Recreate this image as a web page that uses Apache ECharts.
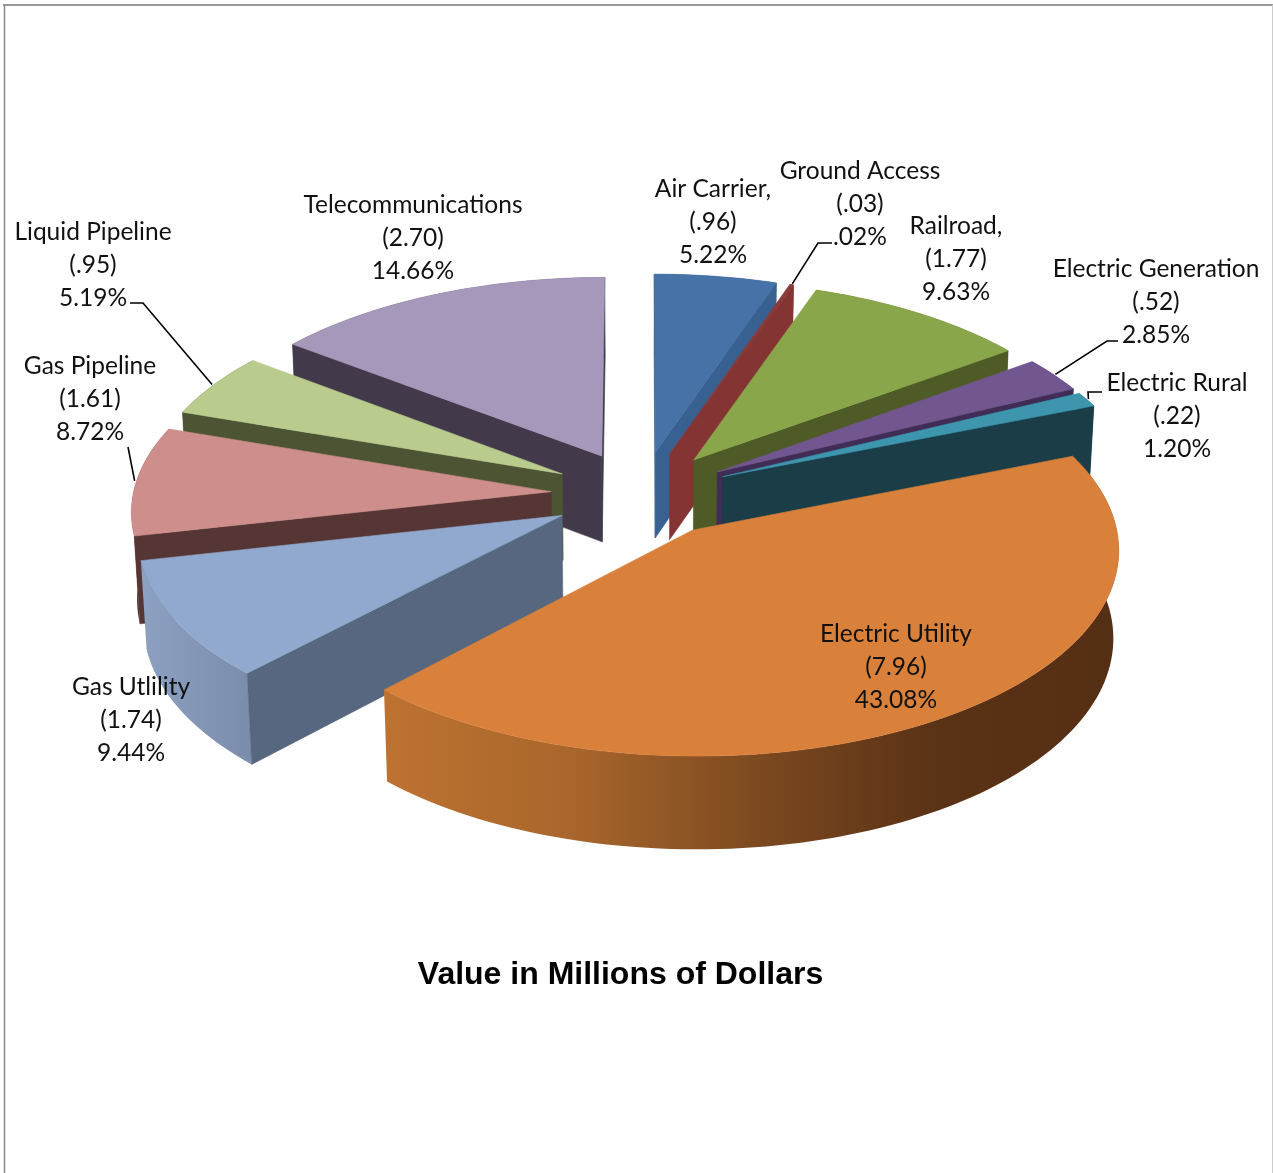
<!DOCTYPE html>
<html><head><meta charset="utf-8">
<style>html,body{margin:0;padding:0;background:#fff}#c{width:1273px;height:1173px}</style>
<script src="https://cdn.jsdelivr.net/npm/echarts@6/dist/echarts.min.js"></script>
</head><body><div id="c"></div>
<script>
// Data
const labelNames = ['Air Carrier,','Ground Access','Railroad,','Electric Generation','Electric Rural','Electric Utility','Gas Utlility','Gas Pipeline','Liquid Pipeline','Telecommunications'];
const valueLabels = ['(.96)','(.03)','(1.77)','(.52)','(.22)','(7.96)','(1.74)','(1.61)','(.95)','(2.70)'];
const percentLabels = ['5.22%','.02%','9.63%','2.85%','1.20%','43.08%','9.44%','8.72%','5.19%','14.66%'];
const values = [0.96,0.03,1.77,0.52,0.22,7.96,1.74,1.61,0.95,2.70];
const titleText = 'Value in Millions of Dollars';

// Styling
const topColors  = ['#4672a8','#8a3a38','#8aa64a','#71568f','#3d96ae','#d9803a','#92a9cf','#ce8e8b','#b9cc8e','#a598bb'];
const wallColors = ['#386090','#843432','#4e5b26','#3f2d55','#1a3d47','#552f14','#57677f','#563635','#4c5434','#423a4a'];
const rimStops = [
 ['#386090','#386090'],['#843432','#843432'],['#4e5b26','#4e5b26'],['#3f2d55','#3f2d55'],['#1a3d47','#1a3d47'],
 ['#bd7231','#a9662c','#7d4a20','#5a3216','#552f14'],['#8ea2c3','#7b8dad'],['#563635','#563635'],['#4c5434','#4c5434'],['#423a4a','#423a4a']
];
const rimExtent = [[650,780],[670,790],[700,1000],[720,1070],[720,1090],[388,1118],[135,246],[130,140],[180,190],[295,600]];

// Scene (perspective camera)
const VIEW = {cx:641, cy:494, tilt:28.6*Math.PI/180, dist:4300, R:418, H:100, explode:90};
// Label centres and leader ends (page layout)
const labelAt = [[713,222],[860,204],[956,259],[1156,302],[1177,416],[896,667],[131,720],[90,399],[93,265],[413,238]];
const leaderPath = [
  null,
  [[818,243],[832,243]],
  null,
  [[1107,341],[1118,341]],
  [[1088,392],[1102,392]],
  null,null,
  [[128,447]],
  [[143,303],[130,303]],
  null
];
const total = values.reduce((a,b)=>a+b,0);
const slices = []; let acc = 0;
values.forEach((v,i)=>{ const a0=acc/total*360; acc+=v; slices.push({i,a0,a1:acc/total*360}); });
// paint order: back of the pie first
const paintOrder = slices.slice().sort((p,q)=>Math.cos((q.a0+q.a1)/360*Math.PI) - Math.cos((p.a0+p.a1)/360*Math.PI)).map(s=>s.i);

function project(X,Y,Z){
  const c=Math.cos(VIEW.tilt), s=Math.sin(VIEW.tilt);
  const w=VIEW.dist+Y*c-Z*s, k=VIEW.dist/w;
  return [VIEW.cx+X*k, VIEW.cy-(Y*s+Z*c)*k];
}
function pt(sl,deg,r,z){
  const m=(sl.a0+sl.a1)/360*Math.PI, a=deg*Math.PI/180;
  return project(r*Math.sin(a)+VIEW.explode*Math.sin(m), r*Math.cos(a)+VIEW.explode*Math.cos(m), z);
}
function area(p){let t=0;for(let i=0;i<p.length;i++){const a=p[i],b=p[(i+1)%p.length];t+=a[0]*b[1]-b[0]*a[1];}return t;}
function poly(points,fill,stroke,z2){
  return {type:'polygon',z2,shape:{points},style:{fill,stroke:stroke,lineWidth:0.6,lineJoin:'round'}};
}
function renderSlice(params,api){
  const i=api.value(0), sl=slices[i], R=VIEW.R, H=VIEW.H, ch=[];
  const arc=[]; const n=Math.max(2,Math.ceil((sl.a1-sl.a0)/1.5));
  for(let k=0;k<=n;k++) arc.push(sl.a0+(sl.a1-sl.a0)*k/n);
  const wall=(a,sign)=>{
    const p=[pt(sl,a,0,0),pt(sl,a,R,0),pt(sl,a,R,-H),pt(sl,a,0,-H)];
    if(area(p)*sign>0) ch.push(poly(p,wallColors[i],wallColors[i]));
  };
  const rim=arc.map(a=>pt(sl,a,R,0)).concat(arc.slice().reverse().map(a=>pt(sl,a,R,-H)));
  const st=rimStops[i], ext=rimExtent[i];
  const grad=new echarts.graphic.LinearGradient(ext[0],0,ext[1],0,st.map((c,j)=>({offset:j/(st.length-1),color:c})),true);
  ch.push({type:'polygon',shape:{points:rim},style:{fill:grad}});
  wall(sl.a0,-1); wall(sl.a1,1);
  const top=[pt(sl,0,0,0)].concat(arc.map(a=>pt(sl,a,R,0)));
  ch.push(poly(top,topColors[i],topColors[i]));
  return {type:'group',children:ch};
}
function renderLabel(params,api){
  const i=api.value(0), sl=slices[i], ch=[];
  if(leaderPath[i]){
    const start=pt(sl,(sl.a0+sl.a1)/2,VIEW.R+2,0);
    ch.push({type:'polyline',shape:{points:[start].concat(leaderPath[i])},style:{stroke:'#000',lineWidth:1.6,fill:null}});
  }
  ch.push({type:'text',style:{
    text:[labelNames[i],valueLabels[i],percentLabels[i]].join('\n'),
    x:labelAt[i][0],y:labelAt[i][1],align:'center',verticalAlign:'middle',
    font:'24.5px Lato, "Open Sans", sans-serif',lineHeight:33,fill:'#111'}});
  return {type:'group',children:ch};
}
const chart=echarts.init(document.getElementById('c'),null,{renderer:'canvas'});
const rows=paintOrder.map(i=>({name:labelNames[i],value:[i,values[i]]}));
chart.setOption({
  animation:false,
  backgroundColor:'#fff',
  title:{text:titleText,left:615.5,top:954,textAlign:'center',
    textStyle:{fontFamily:'Liberation Sans',fontWeight:'bold',fontSize:32,color:'#000'}},
  graphic:[
    {type:'line',shape:{x1:3,y1:5,x2:1273,y2:5},style:{stroke:'#999',lineWidth:2}},
    {type:'line',shape:{x1:4.5,y1:5,x2:4.5,y2:1173},style:{stroke:'#888',lineWidth:1.5}},
    {type:'line',shape:{x1:1272.5,y1:5,x2:1272.5,y2:1173},style:{stroke:'#ccc',lineWidth:1}}
  ],
  series:[
    {type:'custom',coordinateSystem:'none',renderItem:renderSlice,data:rows,z:2,silent:true},
    {type:'custom',coordinateSystem:'none',renderItem:renderLabel,data:rows,z:3,silent:true}
  ]
});
</script></body></html>
